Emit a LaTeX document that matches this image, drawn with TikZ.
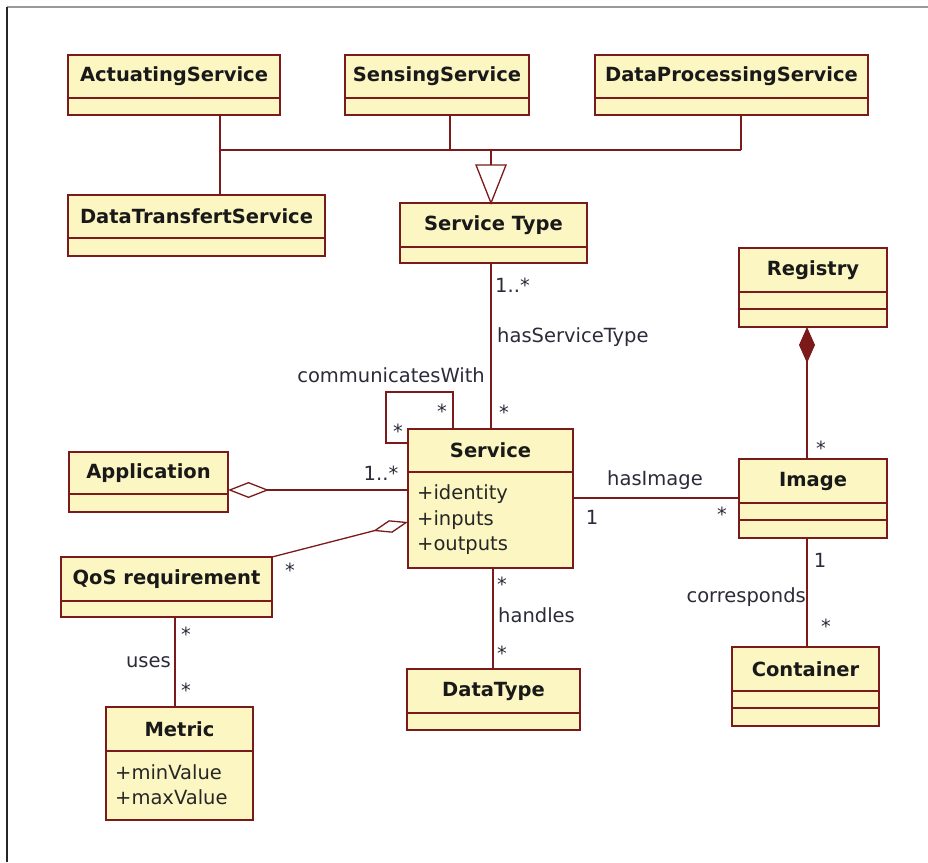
\documentclass[tikz,border=0pt]{standalone}
\usepackage{fontspec}
\setmainfont{DejaVu Sans}
\usetikzlibrary{calc,arrows.meta}
\definecolor{umlfill}{HTML}{FCF7C2}
\definecolor{umlline}{HTML}{7A1A1A}
\definecolor{labeltext}{HTML}{2B2B3A}
\newcommand\umlclass[7]{%
  \node[classbox, minimum width={(#4-#2)*1pt}, minimum height={(#5-#3)*1pt}] (#1) at ({(#2+#4)/2},{(#3+#5)/2}) {};
  \draw[divider] (#2,#6) -- (#4,#6);
  \node[ctitle] (#1-t) at ({(#2+#4)/2},{(#3+#6)/2}) {#7};
}
\newcommand\umldiv[3]{\draw[divider] (#1,#3) -- (#2,#3);}
\begin{document}
\begin{tikzpicture}[x=1pt,y=-1pt,
  classbox/.style={draw=umlline, fill=umlfill, line width=1.6pt, inner sep=0pt, outer sep=0pt},
  divider/.style={draw=umlline, line width=1.3pt},
  conn/.style={draw=umlline, line width=1.3pt},
  ctitle/.style={font=\fontsize{19.5}{22}\selectfont\bfseries, text=black!90, inner sep=0pt, anchor=center},
  attr/.style={font=\fontsize{19.5}{22}\selectfont, anchor=west, inner sep=0pt, text=black!85},
  lbl/.style={font=\fontsize{19.5}{22}\selectfont, inner sep=0pt, text=labeltext},
  mult/.style={lbl, yshift=-4pt},
]
\useasboundingbox (0,0) rectangle (928,862);
\fill[white] (0,0) rectangle (928,862);
\draw[black!40, line width=1.5pt] (7,7) coordinate (fr1) -- (928,7) coordinate (fr2);
\draw[black!85, line width=1.5pt] (fr1) -- (7,862) coordinate (fr3);

% classes
\umlclass{act}{68}{55}{280}{115}{98}{ActuatingService}
\umlclass{sens}{345}{55}{529}{115}{98}{SensingService}
\umlclass{dpro}{595}{55}{868}{115}{98}{DataProcessingService}
\umlclass{dts}{68}{195}{325}{256}{238}{DataTransfertService}
\umlclass{stype}{400}{203}{587}{263}{247}{Service Type}
\umlclass{reg}{739}{248}{887}{327}{292}{Registry}
\umldiv{739}{887}{309}
\umlclass{img}{739}{459}{887}{538}{503}{Image}
\umldiv{739}{887}{520}
\umlclass{cont}{732}{647}{879}{726}{691}{Container}
\umldiv{732}{879}{708}
\umlclass{svc}{408}{429}{573}{568}{472}{Service}
\umlclass{app}{69}{452}{228}{512}{494}{Application}
\umlclass{qos}{61}{557}{272}{617}{601}{QoS requirement}
\umlclass{met}{106}{707}{253}{820}{751}{Metric}
\umlclass{dt}{407}{669}{580}{730}{713}{DataType}

% attributes
\node[attr] (a1) at (417,494) {+identity};
\node[attr] (a2) at (417,520) {+inputs};
\node[attr] (a3) at (417,546) {+outputs};
\node[attr] (m1) at (115,772) {+minValue};
\node[attr] (m2) at (115,797) {+maxValue};

% generalization tree
\coordinate (jA) at (220,150);
\coordinate (jS) at (450,150);
\coordinate (jD) at (741,150);
\coordinate (jT) at (491,150);
\coordinate (triTop) at (491,165);
\draw[conn] (jA |- act.south) -- (jA |- dts.north);
\draw[conn] (jS |- sens.south) -- (jS);
\draw[conn] (jD |- dpro.south) -- (jD);
\draw[conn] (jA) -- (jD);
\draw[conn] (jT) -- (triTop);
\draw[conn, fill=white] ($(triTop)+(-15,0)$) -- ($(triTop)+(15,0)$) -- (jT |- stype.north) -- cycle;

% hasServiceType
\draw[conn] (jT |- stype.south) -- (jT |- svc.north);
\node[lbl, anchor=west] (l1) at (495,285) {1..*};
\node[lbl, anchor=west] (l2) at (497,337) {hasServiceType};
\node[mult] (l3) at (504,408) {*};

% self loop
\coordinate (lp1) at (453,392);
\coordinate (lp2) at (386,443);
\draw[conn] (lp1 |- svc.north) -- (lp1) -- (lp2 |- lp1) -- (lp2) -- (lp2 -| svc.west);
\node[lbl, anchor=east] (l4) at (485,375) {communicatesWith};
\node[mult] (l5) at (442,407) {*};
\node[mult] (l6) at (398,427) {*};

% Application aggregation
\draw[conn, {Diamond[open, length=41pt, width=16pt]}-] (app.east |- 0,490) -- (svc.west |- 0,490);
\node[lbl] (l7) at (381,473) {1..*};

% QoS aggregation
\draw[conn, {Diamond[open, length=36pt, width=13pt]}-] (svc.west |- 0,522) -- (qos.north east);
\node[mult] (l8) at (290,566) {*};

% uses
\coordinate (ux) at (175,0);
\draw[conn] (qos.south -| ux) -- (met.north -| ux);
\node[mult] (l9) at (186,630) {*};
\node[lbl, anchor=east] (l10) at (171,662) {uses};
\node[mult] (l11) at (186,686) {*};

% handles
\coordinate (hx) at (493,0);
\draw[conn] (svc.south -| hx) -- (dt.north -| hx);
\node[mult] (l12) at (502,580) {*};
\node[lbl, anchor=west] (l13) at (498,615) {handles};
\node[mult] (l14) at (502,649) {*};

% hasImage
\draw[conn] (svc.east |- 0,498) -- (img.west |- 0,498);
\node[lbl] (l15) at (655,480) {hasImage};
\node[lbl] (l16) at (592,517) {1};
\node[mult] (l17) at (722,510) {*};

% composition
\coordinate (cx) at (807,0);
\draw[conn, {Diamond[length=36pt, width=16pt, fill=umlline]}-] (reg.south -| cx) -- (img.north -| cx);
\node[mult] (l18) at (821,444) {*};

% corresponds
\draw[conn] (img.south -| cx) -- (cont.north -| cx);
\node[lbl] (l19) at (820,560) {1};
\node[lbl, anchor=east] (l20) at (806,597) {corresponds};
\node[mult] (l21) at (826,622) {*};
\end{tikzpicture}
\end{document}
